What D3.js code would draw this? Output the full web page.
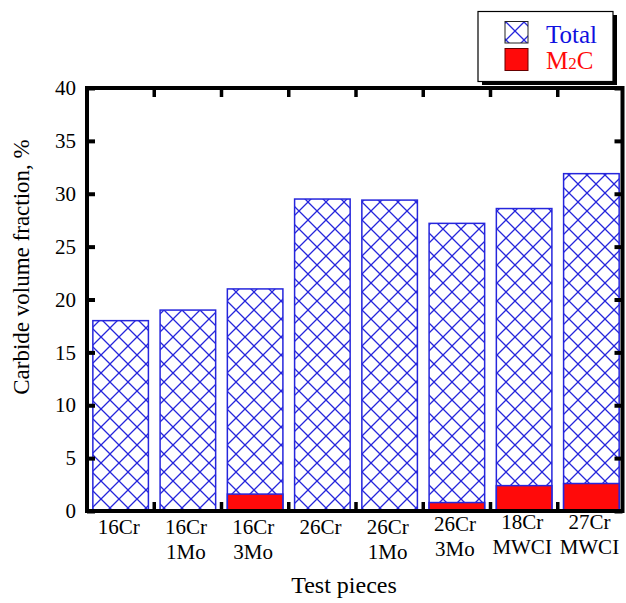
<!DOCTYPE html>
<html>
<head>
<meta charset="utf-8">
<script src="https://cdn.jsdelivr.net/npm/d3@7/dist/d3.min.js"></script>
<style>
  body { margin: 0; background: #fff; }
  svg { display: block; font-family: "Liberation Serif", "Times New Roman", serif; }
</style>
</head>
<body>
<div id="chart"></div>
<script>
// test pieces (two-line labels, split on space)
const pieces = ["16Cr", "16Cr 1Mo", "16Cr 3Mo", "26Cr", "26Cr 1Mo", "26Cr 3Mo", "18Cr MWCI", "27Cr MWCI"];
// carbide volume fraction, %
const totalFrac = [18.0, 19.0, 21.0, 29.5, 29.4, 27.2, 28.6, 31.9];
const m2cFrac = [0, 0, 1.6, 0, 0, 0.8, 2.4, 2.6];
const yTicks = [0, 5, 10, 15, 20, 25, 30, 35, 40];

const W = 626, H = 603;
const plotL = 87, plotR = 622.5, plotT = 88, plotB = 511;
const blue = "#2626dc", red = "#ff0a0a";

const svg = d3.select("#chart").append("svg")
  .attr("width", W).attr("height", H);

// cross hatch
const defs = svg.append("defs");
const pat = defs.append("pattern")
  .attr("id", "xhatch")
  .attr("patternUnits", "userSpaceOnUse")
  .attr("width", 18).attr("height", 18)
  .attr("x", 2).attr("y", 4);
pat.append("path")
  .attr("d", "M0,0L18,18M18,0L0,18M-2,16L2,20M16,-2L20,2M-2,2L2,-2M16,20L20,16")
  .attr("stroke", blue).attr("stroke-width", 1.3).attr("fill", "none");

let x = d3.scaleBand()
  .domain(pieces)
  .range([plotL, 625])
  .paddingInner(0.174)
  .paddingOuter(0.087);

let y = d3.scaleLinear()
  .domain([0, 40])
  .range([plotB, plotT]);

// total bars (hatched)
svg.append("g").selectAll("rect.total")
  .data(pieces)
  .enter().append("rect")
    .attr("class", "total")
    .attr("x", d => x(d))
    .attr("width", x.bandwidth())
    .attr("y", (d, i) => y(totalFrac[i]))
    .attr("height", (d, i) => y(0) - y(totalFrac[i]))
    .attr("fill", "url(#xhatch)")
    .attr("stroke", blue)
    .attr("stroke-width", 1.5);

// M2C bars
svg.append("g").selectAll("rect.m2c")
  .data(pieces.filter((d, i) => m2cFrac[i] > 0))
  .enter().append("rect")
    .attr("class", "m2c")
    .attr("x", d => x(d))
    .attr("width", x.bandwidth())
    .attr("y", d => y(m2cFrac[pieces.indexOf(d)]))
    .attr("height", d => y(0) - y(m2cFrac[pieces.indexOf(d)]))
    .attr("fill", red)
    .attr("stroke", blue)
    .attr("stroke-width", 1.5);

// left axis with inward ticks
let yAxisL = svg.append("g")
  .attr("transform", "translate(" + plotL + ",0)")
  .call(d3.axisLeft(y).tickValues(yTicks).tickSize(-8).tickPadding(11));
yAxisL.select(".domain").remove();
yAxisL.selectAll("line").attr("stroke", "#000").attr("stroke-width", 4);
yAxisL.selectAll("text")
  .attr("font-size", 21)
  .attr("fill", "#000")
  .attr("font-family", "Liberation Serif");

// right axis
let yAxisR = svg.append("g")
  .attr("transform", "translate(" + plotR + ",0)")
  .call(d3.axisRight(y).tickValues(yTicks).tickSize(-8).tickFormat(""));
yAxisR.select(".domain").remove();
yAxisR.selectAll("line").attr("stroke", "#000").attr("stroke-width", 4);

// separators between categories on top and bottom
const seps = pieces.slice(1).map(d => x(d) - (x.step() - x.bandwidth()) / 2);
svg.append("g").selectAll("line.bsep")
  .data(seps).enter().append("line")
    .attr("x1", d => d).attr("x2", d => d)
    .attr("y1", plotB).attr("y2", plotB - 9)
    .attr("stroke", "#000").attr("stroke-width", 3.5);
svg.append("g").selectAll("line.tsep")
  .data(seps).enter().append("line")
    .attr("x1", d => d).attr("x2", d => d)
    .attr("y1", plotT).attr("y2", plotT + 9)
    .attr("stroke", "#000").attr("stroke-width", 3.5);

// frame
svg.append("rect")
  .attr("x", plotL).attr("y", plotT)
  .attr("width", plotR - plotL).attr("height", plotB - plotT)
  .attr("fill", "none").attr("stroke", "#000").attr("stroke-width", 4);

// category labels (last three sit a little higher, as in the original)
let xAxis = svg.append("g")
  .attr("transform", "translate(0," + plotB + ")")
  .call(d3.axisBottom(x).tickSize(0).tickFormat(""));
xAxis.select(".domain").remove();
xAxis.selectAll(".tick").each(function(d, i) {
  const lines = d.split(" ");
  const lift = i === 5 ? 3 : (i > 5 ? 5 : 0);
  const t = d3.select(this).append("text")
    .attr("fill", "#000")
    .attr("font-size", 21)
    .attr("font-family", "Liberation Serif")
    .attr("text-anchor", "middle");
  lines.forEach((ln, k) => {
    t.append("tspan").attr("x", -2).attr("y", 23 - lift + k * 25).text(ln);
  });
});

// axis titles
svg.append("text")
  .attr("x", 344).attr("y", 593)
  .attr("text-anchor", "middle")
  .attr("font-size", 24)
  .text("Test pieces");

svg.append("text")
  .attr("transform", "translate(29," + 267 + ") rotate(-90)")
  .attr("text-anchor", "middle")
  .attr("font-size", 23)
  .text("Carbide volume fraction, %");

// legend
const lg = svg.append("g");
lg.append("rect").attr("x", 482).attr("y", 15).attr("width", 135).attr("height", 70).attr("fill", "#000");
lg.append("rect").attr("x", 478).attr("y", 11.5).attr("width", 135).attr("height", 70)
  .attr("fill", "#fff").attr("stroke", "#000").attr("stroke-width", 1.2);
lg.append("rect").attr("x", 505).attr("y", 21.5).attr("width", 23).attr("height", 21.5)
  .attr("fill", "url(#xhatch)").attr("stroke", "#222").attr("stroke-width", 1);
lg.append("rect").attr("x", 505).attr("y", 48.5).attr("width", 23).attr("height", 22)
  .attr("fill", red).attr("stroke", "#600").attr("stroke-width", 1);
lg.append("text").attr("x", 546).attr("y", 43).attr("font-size", 25)
  .attr("fill", "#1010e0").text("Total");
const m2cText = lg.append("text").attr("x", 546).attr("y", 69).attr("font-size", 25)
  .attr("fill", red);
m2cText.append("tspan").text("M");
m2cText.append("tspan").attr("font-size", 17).text("2");
m2cText.append("tspan").text("C");
</script>
</body>
</html>
